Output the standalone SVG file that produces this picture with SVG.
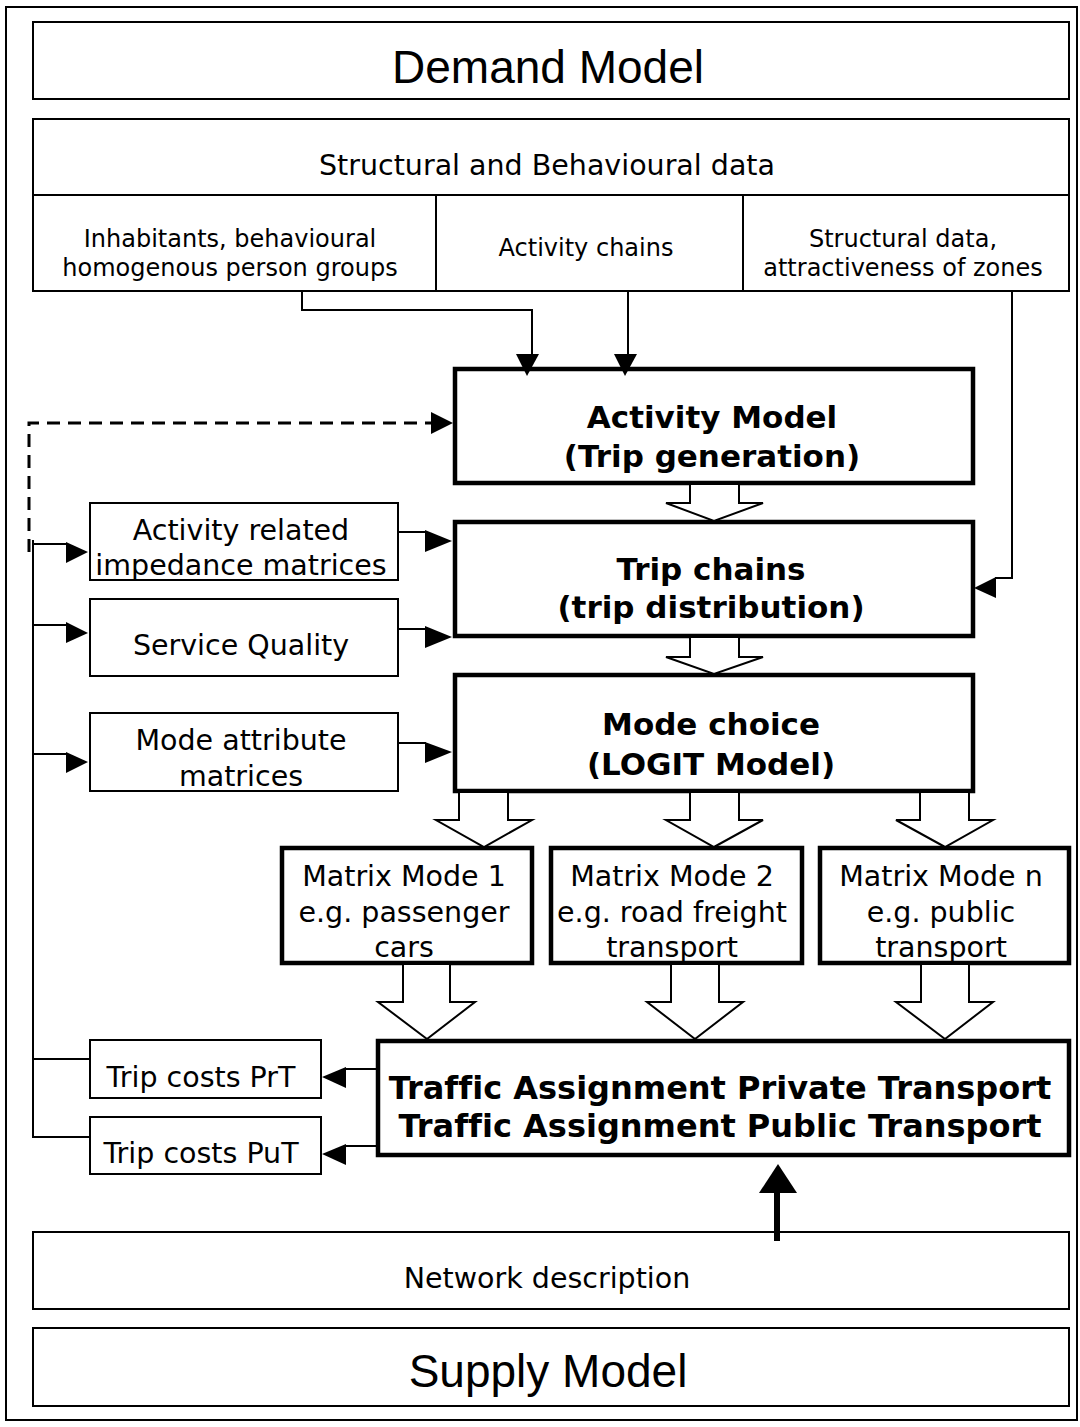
<svg xmlns="http://www.w3.org/2000/svg" width="1080" height="1427" viewBox="0 0 1080 1427">
<style>
.thin{fill:#fff;stroke:#000;stroke-width:2}
.thick{fill:#fff;stroke:#000;stroke-width:4.5}
.ln{fill:none;stroke:#000;stroke-width:2}
.hol{fill:#fff;stroke:#000;stroke-width:2;stroke-linejoin:miter}
.tri{fill:#000;stroke:none}
.t{font-family:"DejaVu Sans",Verdana,sans-serif;fill:#000;text-anchor:middle;font-variant-ligatures:none}
.s24{font-size:24px}
.s29{font-size:28.5px}
.b{font-size:31px;font-weight:bold}
.b32{font-size:32px;font-weight:bold}
.big{font-family:"Liberation Sans",Arial,sans-serif;font-size:46px;fill:#000;text-anchor:middle}
</style>
<rect x="0" y="0" width="1080" height="1427" fill="#fff"/>
<rect x="6" y="7" width="1071" height="1413" class="ln"/>

<g id="demand">
<rect x="33" y="22" width="1036" height="77" class="thin"/>
<text x="548" y="83" class="big">Demand Model</text>
</g>

<g id="structural">
<rect x="33" y="119" width="1036" height="172" class="thin"/>
<line x1="33" y1="195" x2="1069" y2="195" class="ln"/>
<line x1="436" y1="195" x2="436" y2="291" class="ln"/>
<line x1="743" y1="195" x2="743" y2="291" class="ln"/>
<text x="547" y="175" class="t s29">Structural and Behavioural data</text>
</g>
<g id="inhabitants">
<text x="230" y="247" class="t s24">Inhabitants, behavioural</text>
<text x="230" y="276" class="t s24">homogenous person groups</text>
</g>
<g id="activitychains">
<text x="586" y="256" class="t s24">Activity chains</text>
</g>
<g id="structuraldata">
<text x="903" y="247" class="t s24">Structural data,</text>
<text x="903" y="276" class="t s24">attractiveness of zones</text>
</g>

<g id="activitymodel">
<rect x="455" y="369" width="518" height="114" class="thick"/>
<text x="712" y="428" class="t b">Activity Model</text>
<text x="712" y="467" class="t b">(Trip generation)</text>
</g>
<g id="tripchains">
<rect x="455" y="522" width="518" height="114" class="thick"/>
<text x="711" y="580" class="t b">Trip chains</text>
<text x="711" y="618" class="t b">(trip distribution)</text>
</g>
<g id="modechoice">
<rect x="455" y="675" width="518" height="116" class="thick"/>
<text x="711" y="735" class="t b">Mode choice</text>
<text x="711" y="775" class="t b">(LOGIT Model)</text>
</g>

<g id="activityrelated">
<rect x="90" y="503" width="308" height="77" class="thin"/>
<text x="241" y="540" class="t s29">Activity related</text>
<text x="241" y="575" class="t s29">impedance matrices</text>
</g>
<g id="servicequality">
<rect x="90" y="599" width="308" height="77" class="thin"/>
<text x="241" y="655" class="t s29">Service Quality</text>
</g>
<g id="modeattribute">
<rect x="90" y="713" width="308" height="78" class="thin"/>
<text x="241" y="750" class="t s29">Mode attribute</text>
<text x="241" y="786" class="t s29">matrices</text>
</g>

<g id="matrix1">
<rect x="282" y="848" width="250" height="115" class="thick"/>
<text x="404" y="886" class="t s29">Matrix Mode 1</text>
<text x="404" y="922" class="t s29">e.g. passenger</text>
<text x="404" y="957" class="t s29">cars</text>
</g>
<g id="matrix2">
<rect x="551" y="848" width="251" height="115" class="thick"/>
<text x="672" y="886" class="t s29">Matrix Mode 2</text>
<text x="672" y="922" class="t s29">e.g. road freight</text>
<text x="672" y="957" class="t s29">transport</text>
</g>
<g id="matrixn">
<rect x="820" y="848" width="249" height="115" class="thick"/>
<text x="941" y="886" class="t s29">Matrix Mode n</text>
<text x="941" y="922" class="t s29">e.g. public</text>
<text x="941" y="957" class="t s29">transport</text>
</g>

<g id="assignment">
<rect x="378" y="1041" width="691" height="114" class="thick"/>
<text x="720" y="1099" class="t b32">Traffic Assignment Private Transport</text>
<text x="720" y="1137" class="t b32">Traffic Assignment Public Transport</text>
</g>

<g id="costsprt">
<rect x="90" y="1040" width="231" height="58" class="thin"/>
<text x="201" y="1087" class="t s29">Trip costs PrT</text>
</g>
<g id="costsput">
<rect x="90" y="1117" width="231" height="57" class="thin"/>
<text x="201" y="1163" class="t s29">Trip costs PuT</text>
</g>

<g id="network">
<rect x="33" y="1232" width="1036" height="77" class="thin"/>
<text x="547" y="1288" class="t s29">Network description</text>
</g>
<g id="supply">
<rect x="33" y="1328" width="1036" height="78" class="thin"/>
<text x="548" y="1387" class="big">Supply Model</text>
</g>

<g id="connectors">
<path class="hol" d="M690 485 V503 H666 L714 521 L763 503 H739 V485"/>
<path class="hol" d="M690 638 V657 H666 L714 674 L763 657 H739 V638"/>
<path class="hol" d="M459 793 V820 H436 L484 847 L532 820 H508 V793"/>
<path class="hol" d="M690 793 V820 H666 L714 847 L763 820 H739 V793"/>
<path class="hol" d="M920 793 V820 H896 L945 847 L993 820 H969 V793"/>
<path class="hol" d="M403 965 V1002 H378 L427 1039 L475 1002 H450 V965"/>
<path class="hol" d="M671 965 V1002 H647 L695 1039 L743 1002 H719 V965"/>
<path class="hol" d="M921 965 V1002 H896 L945 1039 L993 1002 H969 V965"/>

<path class="ln" d="M302 291 V310 H532 V355"/>
<polygon class="tri" points="516,354 539,354 527,376"/>
<path class="ln" d="M628 291 V355"/>
<polygon class="tri" points="614,354 637,354 625,376"/>
<path class="ln" d="M1012 291 V578 H995"/>
<polygon class="tri" points="996,577 996,598 974,588"/>

<path d="M29 552 V423 H432" fill="none" stroke="#000" stroke-width="3" stroke-dasharray="13 8"/>
<polygon class="tri" points="431,412 431,434 453,423"/>
<path class="ln" d="M33 540 V1137 H90"/>
<path class="ln" d="M33 1059 H90"/>
<path class="ln" d="M33 544 H67"/>
<polygon class="tri" points="66,542 66,563 88,552"/>
<path class="ln" d="M33 625 H67"/>
<polygon class="tri" points="66,622 66,643 88,633"/>
<path class="ln" d="M33 754 H67"/>
<polygon class="tri" points="66,752 66,773 88,762"/>

<path class="ln" d="M398 532 H426"/>
<polygon class="tri" points="425,530 425,552 452,541"/>
<path class="ln" d="M398 629 H426"/>
<polygon class="tri" points="425,626 425,648 452,637"/>
<path class="ln" d="M398 743 H426"/>
<polygon class="tri" points="425,742 425,763 452,752"/>

<path class="ln" d="M378 1069 H345"/>
<polygon class="tri" points="346,1067 346,1088 322,1077"/>
<path class="ln" d="M378 1146 H345"/>
<polygon class="tri" points="346,1144 346,1165 322,1154"/>

<line x1="777" y1="1241" x2="777" y2="1190" stroke="#000" stroke-width="6"/>
<polygon class="tri" points="759,1193 797,1193 778,1164"/>
</g>
</svg>
